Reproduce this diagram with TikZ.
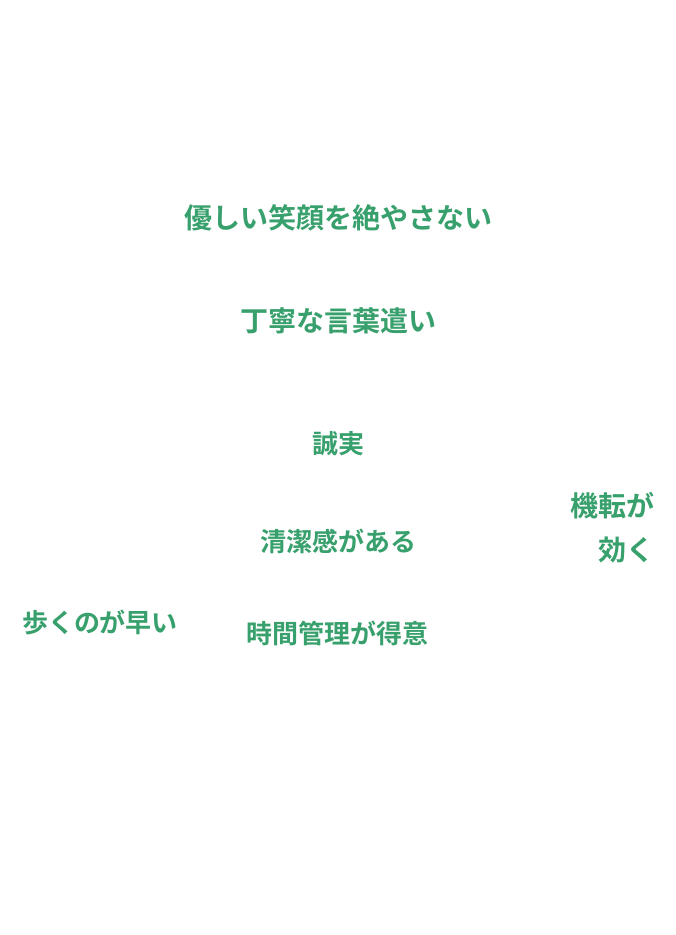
\documentclass[tikz,border=0pt]{standalone}
\usepackage{fontspec}
\newfontfamily\cjk{Noto Sans CJK JP Bold}
\definecolor{txtgreen}{HTML}{38A06C}
\begin{document}
\begin{tikzpicture}[x=1pt,y=-1pt,
  lbl/.style={inner sep=0pt, text=txtgreen, font=\cjk\fontsize{26}{44}\selectfont},
  biglbl/.style={lbl, font=\cjk\fontsize{28}{44}\selectfont}]
\useasboundingbox[fill=white] (0,0) rectangle (676,935);
\node[biglbl] (smile) at (338,218) {優しい笑顔を絶やさない};
\node[biglbl] (polite) at (338.5,321) {丁寧な言葉遣い};
\node[lbl] (honest) at (338,444) {誠実};
\node[lbl] (clean) at (338,541) {清潔感がある};
\node[lbl] (time) at (337,633) {時間管理が得意};
\node[lbl] (walk) at (100,623) {歩くのが早い};
\node[biglbl, anchor=east] (wit1) at (655,506) {機転が};
\node[biglbl, anchor=east] (wit2) at (655,550) {効く};
\end{tikzpicture}
\end{document}
